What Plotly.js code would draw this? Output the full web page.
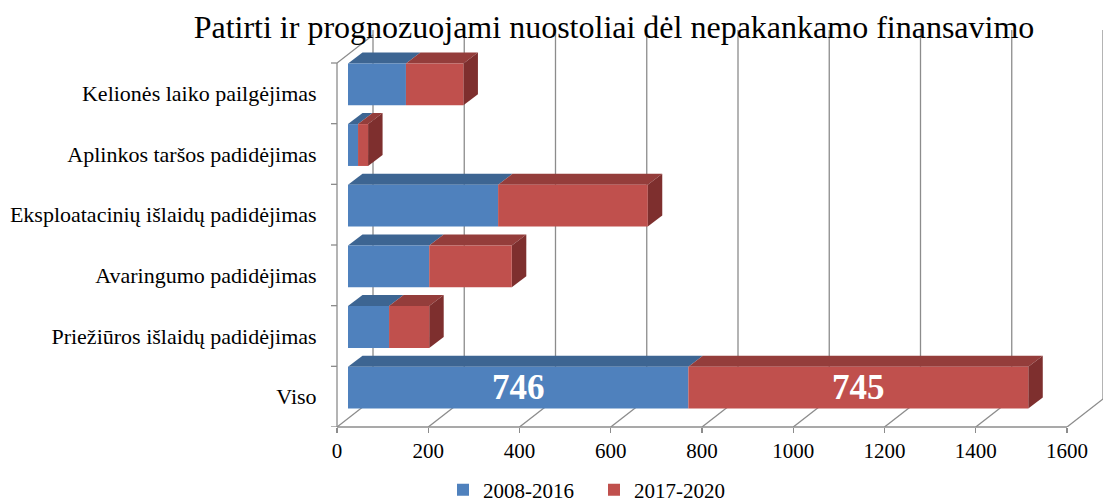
<!DOCTYPE html>
<html>
<head>
<meta charset="utf-8">
<script src="https://cdn.plot.ly/plotly-3.0.1.min.js"></script>
<style>html,body{margin:0;padding:0;background:#fff;}#chart{width:1103px;height:504px;}</style>
</head>
<body>
<div id="chart"></div>
<script>
// ---- data (bottom to top) ----
const categories = ['Viso', 'Priežiūros išlaidų padidėjimas', 'Avaringumo padidėjimas',
  'Eksploatacinių išlaidų padidėjimas', 'Aplinkos taršos padidėjimas', 'Kelionės laiko pailgėjimas'];
const s2008 = [746, 90, 178, 329, 22, 127];
const s2017 = [745, 88, 181, 328, 22, 126];
const seriesNames = ['2008-2016', '2017-2020'];
const xTicks = [0, 200, 400, 600, 800, 1000, 1200, 1400, 1600];
const labelled = ['Viso'];

// ---- geometry (pixel layout of the pseudo-3D box) ----
const W = 1103, H = 504;
const mL = 337, mR = 0, mT = 25, mB = 77;
const plotW = W - mL - mR, plotH = H - mT - mB;
const xPerPx = 1600 / 730, yPerPx = 6 / 364;
const xMax = plotW * xPerPx, yMax = plotH * yPerPx;
const BX = 36 * xPerPx, BY = 28 * yPerPx;      // back wall offset
const OX = 11 * xPerPx, SHIFT = 0.148;         // bar front-face offset
const BW = 0.69;                                // bar thickness
const DX = 14.5 * xPerPx, DY = 11 * yPerPx;     // bar depth
const gridTop = (427 - 30) * yPerPx;
const catN = categories.length;

const FONT = '"Liberation Serif", "Times New Roman", serif';
const blue = '#4F81BD', blueTop = '#3D6592', red = '#C0504D', redTop = '#943D3B', redSide = '#7E2F2E';
const gridCol = '#8C8C8C';

const yc = categories.map((c, i) => i + 0.5 + SHIFT);

const traces = [
  {
    type: 'bar', orientation: 'h', name: seriesNames[0],
    y: yc, x: s2008, base: s2008.map(() => OX), width: BW,
    marker: {color: blue, line: {width: 0}},
    text: s2008.map((v, i) => labelled.includes(categories[i]) ? String(v) : ''),
    textposition: 'inside', insidetextanchor: 'middle', constraintext: 'none', textangle: 0,
    textfont: {family: FONT, size: 35, color: '#fff', weight: 'bold'},
    hoverinfo: 'x+name'
  },
  {
    type: 'bar', orientation: 'h', name: seriesNames[1],
    y: yc, x: s2017, base: s2008.map(v => OX + v), width: BW,
    marker: {color: red, line: {width: 0}},
    text: s2017.map((v, i) => labelled.includes(categories[i]) ? String(v) : ''),
    textposition: 'inside', insidetextanchor: 'middle', constraintext: 'none', textangle: 0,
    textfont: {family: FONT, size: 35, color: '#fff', weight: 'bold'},
    hoverinfo: 'x+name'
  }
];

const shapes = [];
const ln = {color: gridCol, width: 1.3};
// back wall gridlines and floor diagonals
xTicks.forEach(v => {
  shapes.push({type: 'line', xref: 'x', yref: 'y', x0: v + BX, x1: v + BX, y0: BY, y1: gridTop, line: ln, layer: 'below'});
  shapes.push({type: 'line', xref: 'x', yref: 'y', x0: v, x1: v + BX, y0: 0, y1: BY, line: ln, layer: 'below'});
});
// left wall top edge
shapes.push({type: 'line', xref: 'x', yref: 'y', x0: 0, x1: BX, y0: catN, y1: catN + BY, line: ln, layer: 'below'});
// left wall front edge and category ticks
shapes.push({type: 'line', xref: 'paper', yref: 'y', x0: 0, x1: 0, y0: 0, y1: catN, line: ln, layer: 'below'});
for (let k = 0; k <= catN; k++) {
  shapes.push({type: 'line', xref: 'paper', yref: 'y', x0: -6 / plotW, x1: 0, y0: k, y1: k, line: ln, layer: 'below'});
}
// floor front edge
shapes.push({type: 'line', xref: 'x', yref: 'paper', x0: 0, x1: xTicks[xTicks.length - 1], y0: 0, y1: 0, line: ln, layer: 'below'});

// bar top and side faces
const pt = (x, y) => x + ',' + y;
categories.forEach((c, i) => {
  const yt = yc[i] + BW / 2, yb = yc[i] - BW / 2;
  const a = OX, b = OX + s2008[i], e = OX + s2008[i] + s2017[i];
  shapes.push({type: 'path', xref: 'x', yref: 'y', layer: 'below', line: {width: 0}, fillcolor: blueTop,
    path: 'M' + pt(a, yt) + 'L' + pt(b, yt) + 'L' + pt(b + DX, yt + DY) + 'L' + pt(a + DX, yt + DY) + 'Z'});
  shapes.push({type: 'path', xref: 'x', yref: 'y', layer: 'below', line: {width: 0}, fillcolor: redTop,
    path: 'M' + pt(b, yt) + 'L' + pt(e, yt) + 'L' + pt(e + DX, yt + DY) + 'L' + pt(b + DX, yt + DY) + 'Z'});
  shapes.push({type: 'path', xref: 'x', yref: 'y', layer: 'below', line: {width: 0}, fillcolor: redSide,
    path: 'M' + pt(e, yb) + 'L' + pt(e, yt) + 'L' + pt(e + DX, yt + DY) + 'L' + pt(e + DX, yb + DY) + 'Z'});
});

const layout = {
  width: W, height: H,
  margin: {l: mL, r: mR, t: mT, b: mB, pad: 0, autoexpand: false},
  paper_bgcolor: '#fff', plot_bgcolor: 'rgba(0,0,0,0)',
  barmode: 'overlay',
  title: {text: 'Patirti ir prognozuojami nuostoliai dėl nepakankamo finansavimo',
    font: {family: FONT, size: 32, color: '#000'},
    xref: 'container', x: 614 / W, xanchor: 'center', yref: 'container', y: 1 - 27 / H, yanchor: 'middle'},
  xaxis: {range: [0, xMax], tickvals: xTicks, ticktext: xTicks.map(String), showgrid: false, zeroline: false,
    showline: false, ticks: 'outside', ticklen: 5, tickcolor: gridCol, tickwidth: 1.3,
    tickfont: {family: FONT, size: 21, color: '#000'}, fixedrange: true},
  yaxis: {range: [0, yMax], tickvals: categories.map((c, i) => i + 0.5), ticktext: categories,
    showgrid: false, zeroline: false, showline: false, ticks: 'outside', ticklen: 15, tickcolor: 'rgba(0,0,0,0)',
    tickfont: {family: FONT, size: 22, color: '#000'}, fixedrange: true},
  showlegend: true,
  legend: {orientation: 'h', x: (443 - mL) / plotW, xanchor: 'left', y: (427 - 490) / plotH, yanchor: 'middle',
    entrywidth: 106, entrywidthmode: 'pixels',
    font: {family: FONT, size: 21, color: '#000'}, traceorder: 'normal', itemwidth: 30, bgcolor: 'rgba(0,0,0,0)'},
  shapes: shapes
};

Plotly.newPlot('chart', traces, layout, {displayModeBar: false, staticPlot: true});
</script>
</body>
</html>
